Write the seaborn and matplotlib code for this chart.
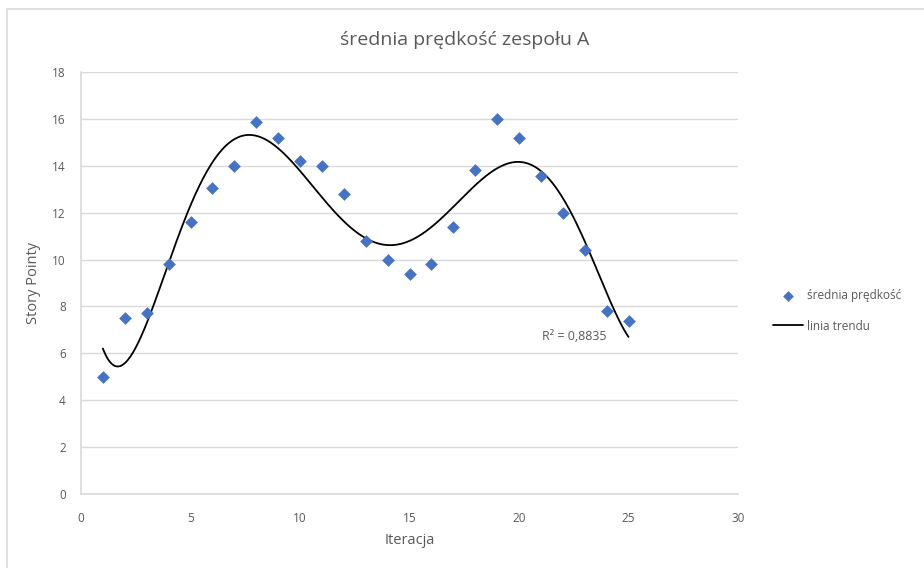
import numpy as np
import pandas as pd
import matplotlib
matplotlib.use("Agg")
import matplotlib.pyplot as plt
import seaborn as sns
from matplotlib.patches import Rectangle

# ---- data ----
iteracje = [1, 2, 3, 4, 5, 6, 7, 8, 9, 10, 11, 12, 13, 14, 15, 16, 17, 18, 19, 20, 21, 22, 23, 24, 25]
predkosc = [5.0, 7.5, 7.7, 9.8, 11.6, 13.05, 14.0, 15.85, 15.2, 14.2, 14.0, 12.8, 10.8, 10.0,
            9.4, 9.8, 11.4, 13.8, 16.0, 15.2, 13.55, 12.0, 10.4, 7.8, 7.4]
poly_degree = 6
r2_text = "R² = 0,8835"
title = "średnia prędkość zespołu A"
xlabel = "Iteracja"
ylabel = "Story Pointy"
series_label = "średnia prędkość"
trend_label = "linia trendu"
x_ticks = [0, 5, 10, 15, 20, 25, 30]
y_ticks = [0, 2, 4, 6, 8, 10, 12, 14, 16, 18]

df = pd.DataFrame({"x": iteracje, "y": predkosc})
coef = np.polyfit(df["x"], df["y"], poly_degree)
xs = np.linspace(min(iteracje), max(iteracje), 400)
trend = pd.DataFrame({"x": xs, "y": np.polyval(coef, xs)})

# ---- style ----
sns.set_theme(style="white")
plt.rcParams["font.family"] = ["Open Sans", "DejaVu Sans"]
gray = "#595959"
grid = "#d9d9d9"
blue = "#4472C4"

W, H = 924, 568
fig = plt.figure(figsize=(W / 100, H / 100), dpi=100)
fig.patch.set_facecolor("white")
fig.patches.append(Rectangle((7 / W, -0.01), 1.02, 1 - 9 / H + 0.01, transform=fig.transFigure,
                             fill=False, edgecolor=grid, linewidth=1.2, zorder=0))

ax = fig.add_axes([81 / W, 1 - 494 / H, (738 - 81) / W, (494 - 72) / H])

sns.lineplot(data=trend, x="x", y="y", ax=ax, color="black", linewidth=1.3,
             label=trend_label, zorder=3)
sns.scatterplot(data=df, x="x", y="y", ax=ax, marker="D", color=blue, s=42,
                linewidth=0, label=series_label, zorder=4)

ax.set_xlim(0, 30)
ax.set_ylim(0, 18)
ax.set_xticks(x_ticks)
ax.set_yticks(y_ticks)
ax.yaxis.grid(True, color=grid, linewidth=1)
ax.xaxis.grid(False)
ax.set_axisbelow(True)
for s in ["top", "right"]:
    ax.spines[s].set_visible(False)
for s in ["left", "bottom"]:
    ax.spines[s].set_color(grid)
    ax.spines[s].set_linewidth(1.2)
ax.tick_params(axis="both", length=0, labelsize=8.5, labelcolor=gray)
ax.tick_params(axis="x", pad=13)
ax.tick_params(axis="y", pad=11)

ax.set_xlabel(xlabel, fontsize=10.5, color=gray, labelpad=6)
ax.set_ylabel(ylabel, fontsize=10.5, color=gray, labelpad=8)

fig.text(0.503, 1 - 40 / H, title, ha="center", va="center", fontsize=14, color=gray)

ax.text(21.05, 6.7, r2_text, ha="left", va="center", fontsize=9, color=gray)

ax.get_legend().remove()
h, l = ax.get_legend_handles_labels()
order = [l.index(series_label), l.index(trend_label)]
leg = fig.legend([h[i] for i in order], [l[i] for i in order], loc="center left",
                 bbox_to_anchor=(768 / W, 1 - 311 / H), frameon=False, fontsize=8.5,
                 labelcolor=gray, handlelength=2.6, handletextpad=0.3, labelspacing=1.45,
                 borderaxespad=0, markerscale=0.85)

fig.savefig("out.png", dpi=100, facecolor="white")
